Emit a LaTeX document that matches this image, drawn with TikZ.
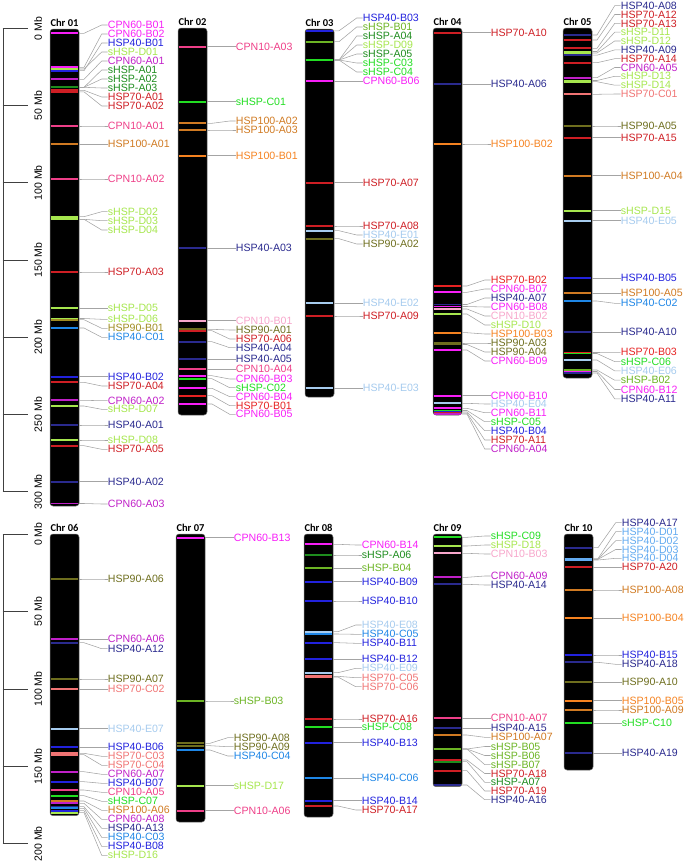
\documentclass[tikz,border=0pt]{standalone}
\usepackage{fontspec}
\setmainfont{Liberation Sans}
\newfontfamily\ttlfont{Carlito}
\definecolor{cpA}{HTML}{C020C8}
\definecolor{cpB}{HTML}{F71EF7}
\definecolor{cTA}{HTML}{EE3F88}
\definecolor{cTB}{HTML}{F7A6CB}
\definecolor{hfA}{HTML}{2A2A8E}
\definecolor{hfB}{HTML}{2222DD}
\definecolor{hfC}{HTML}{1E86E6}
\definecolor{hfD}{HTML}{62AAF0}
\definecolor{hfE}{HTML}{A6CBEE}
\definecolor{hsA}{HTML}{CE1E24}
\definecolor{hsB}{HTML}{E62222}
\definecolor{hsC}{HTML}{F07474}
\definecolor{hnA}{HTML}{6E6E1E}
\definecolor{hnB}{HTML}{A08C22}
\definecolor{hhA}{HTML}{D07A22}
\definecolor{hhB}{HTML}{F58220}
\definecolor{sA}{HTML}{1E8C1E}
\definecolor{sB}{HTML}{6CB424}
\definecolor{sC}{HTML}{22DD22}
\definecolor{sD}{HTML}{A6E64E}
\definecolor{connc}{HTML}{A4A4A4}
\definecolor{axc}{HTML}{404040}
\tikzset{
  barshape/.style={fill=black,draw=black!55,line width=0.5pt,rounded corners=3pt},
  bandline/.style={line width=1.8pt},
  lbl/.style={anchor=west,inner sep=0pt,font=\fontsize{10.6}{10.6}\selectfont},
  ttl/.style={inner sep=0pt,font=\ttlfont\bfseries\fontsize{10.5}{10.5}\selectfont},
  conn/.style={draw=connc,line width=0.55pt},
  axline/.style={draw=axc,line width=0.9pt},
  axl/.style={inner sep=0pt,rotate=90,font=\fontsize{10.5}{10.5}\selectfont}
}
\newcommand\chrom[4]{%
  \pgfmathsetmacro\xL{#2}\pgfmathsetmacro\xR{#2+29}%
  \pgfmathsetmacro\xT{#2+14.5}\pgfmathsetmacro\xLab{#2+29+28.7}%
  \draw[barshape] (\xL,#3) rectangle (\xR,#4);
  \node[ttl] (chr#1) at (\xT,#3-6) {Chr #1};
}
\newcommand\gene[4]{%
  \draw[bandline,draw=#2] (\xL+0.7,#3) -- (\xR-0.7,#3);
  \coordinate (b-#1) at (\xR,#3);
  \node[lbl,text=#2] (#1) at (\xLab,#4) {#1};
  \draw[conn] (b-#1) -- ++(5,0) -- ([xshift=-6pt]#1.west) -- (#1.west);
}
\begin{document}
\begin{tikzpicture}[x=1pt,y=-1pt]
\useasboundingbox (0,0) rectangle (685,863);
% ---------- axes ----------
\coordinate (axTtop) at (3,28.5);
\coordinate (axTbot) at (3,491.7);
\draw[axline] (axTtop) -- (axTbot);
\foreach \k/\t in {0/0 Mb,1/50 Mb,2/100 Mb,3/150 Mb,4/200 Mb,5/250 Mb,6/300 Mb}{
  \pgfmathsetmacro\yy{28.5+77.2*\k}
  \coordinate (tT\k) at (2.6,\yy);
  \coordinate (tTe\k) at (28,\yy);
  \draw[axline] (tT\k) -- (tTe\k);
  \node[axl] (aT\k) at (38,\yy) {\t};
}
\coordinate (axBtop) at (3,534.3);
\coordinate (axBbot) at (3,844);
\draw[axline] (axBtop) -- (axBbot);
\foreach \k/\t in {0/0 Mb,1/50 Mb,2/100 Mb,3/150 Mb,4/200 Mb}{
  \pgfmathsetmacro\yy{534.3+77.4*\k}
  \coordinate (tB\k) at (2.6,\yy);
  \coordinate (tBe\k) at (28,\yy);
  \draw[axline] (tB\k) -- (tBe\k);
  \node[axl] (aB\k) at (38,\yy) {\t};
}
% ---------- Chr 01 ----------
\chrom{01}{50}{29}{506}
\gene{CPN60-B01}{cpB}{33.3}{25}
\gene{CPN60-B02}{cpB}{67.3}{34}
\gene{sHSP-D01}{sD}{69}{52}
\gene{HSP40-B01}{hfB}{70.7}{43}
\gene{CPN60-A01}{cpA}{79.3}{61}
\gene{sHSP-A01}{sA}{87.3}{70}
\gene{sHSP-A02}{sA}{87.3}{79}
\gene{sHSP-A03}{sA}{87.3}{88}
\gene{HSP70-A01}{hsA}{90.3}{97}
\gene{HSP70-A02}{hsA}{91.8}{106}
\gene{CPN10-A01}{cTA}{126}{126}
\gene{HSP100-A01}{hhA}{144.3}{144.3}
\gene{CPN10-A02}{cTA}{179}{179}
\gene{sHSP-D02}{sD}{216.7}{211.7}
\gene{sHSP-D03}{sD}{219.3}{220.7}
\gene{sHSP-D04}{sD}{219.3}{230}
\gene{HSP70-A03}{hsA}{272}{272}
\gene{sHSP-D05}{sD}{308.3}{308.3}
\gene{sHSP-D06}{sD}{318.5}{319.3}
\gene{HSP90-B01}{hnB}{319.7}{328.3}
\gene{HSP40-C01}{hfC}{328}{337.3}
\gene{HSP40-B02}{hfB}{376.7}{376.7}
\gene{HSP70-A04}{hsA}{382.3}{386}
\gene{CPN60-A02}{cpA}{400.3}{400.7}
\gene{sHSP-D07}{sD}{406}{409.3}
\gene{HSP40-A01}{hfA}{425}{425}
\gene{sHSP-D08}{sD}{440}{440}
\gene{HSP70-A05}{hsA}{445.7}{449.3}
\gene{HSP40-A02}{hfA}{481.7}{481.7}
\gene{CPN60-A03}{cpA}{503.5}{504}
% ---------- Chr 02 ----------
\chrom{02}{178}{28}{415}
\gene{CPN10-A03}{cTA}{46.7}{46.7}
\gene{sHSP-C01}{sC}{101.7}{101.7}
\gene{HSP100-A02}{hhA}{123.3}{121}
\gene{HSP100-A03}{hhA}{130}{130}
\gene{HSP100-B01}{hhB}{155.7}{155.7}
\gene{HSP40-A03}{hfA}{248.3}{248.3}
\gene{CPN10-B01}{cTB}{320.7}{320.7}
\gene{HSP90-A01}{hnA}{329.3}{330}
\gene{HSP70-A06}{hsA}{330.7}{339}
\gene{HSP40-A04}{hfA}{341.7}{347.7}
\gene{HSP40-A05}{hfA}{359.3}{359.3}
\gene{CPN10-A04}{cTA}{369.3}{369.3}
\gene{CPN60-B03}{cpB}{375.7}{379}
\gene{sHSP-C02}{sC}{378.7}{387.7}
\gene{CPN60-B04}{cpB}{388.3}{396.7}
\gene{HSP70-B01}{hsB}{395.7}{405.7}
\gene{CPN60-B05}{cpB}{404}{414.3}
% ---------- Chr 03 ----------
\chrom{03}{305}{29}{397}
\gene{HSP40-B03}{hfB}{30.8}{18}
\gene{sHSP-B01}{sB}{41.7}{27}
\gene{sHSP-A04}{sA}{60}{36}
\gene{sHSP-D09}{sD}{60}{45}
\gene{sHSP-A05}{sA}{60}{54}
\gene{sHSP-C03}{sC}{60}{63}
\gene{sHSP-C04}{sC}{60}{72}
\gene{CPN60-B06}{cpB}{81.3}{81.3}
\gene{HSP70-A07}{hsA}{182.7}{182.7}
\gene{HSP70-A08}{hsA}{226}{226}
\gene{HSP40-E01}{hfE}{230.7}{235}
\gene{HSP90-A02}{hnA}{238.7}{244}
\gene{HSP40-E02}{hfE}{303.3}{303.3}
\gene{HSP70-A09}{hsA}{316}{316}
\gene{HSP40-E03}{hfE}{388.3}{388.3}
% ---------- Chr 04 ----------
\chrom{04}{433}{28}{415}
\gene{HSP70-A10}{hsA}{32.7}{32.7}
\gene{HSP40-A06}{hfA}{84.3}{84.3}
\gene{HSP100-B02}{hhB}{144}{144}
\gene{HSP70-B02}{hsB}{286}{280}
\gene{CPN60-B07}{cpB}{292.3}{289}
\gene{HSP40-A07}{hfA}{304.5}{298}
\gene{CPN60-B08}{cpB}{306.5}{307}
\gene{CPN10-B02}{cTB}{309}{316}
\gene{sHSP-D10}{sD}{314}{325}
\gene{HSP100-B03}{hhB}{332.7}{334}
\gene{HSP90-A03}{hnA}{343}{343}
\gene{HSP90-A04}{hnA}{344.5}{352}
\gene{CPN60-B09}{cpB}{350}{361}
\gene{CPN60-B10}{cpB}{395.7}{395.7}
\gene{HSP40-E04}{hfE}{403.3}{404}
\gene{CPN60-B11}{cpB}{408.3}{412.7}
\gene{sHSP-C05}{sC}{410.5}{421.7}
\gene{HSP40-B04}{hfB}{411.8}{430.7}
\gene{HSP70-A11}{hsA}{413}{440}
\gene{CPN60-A04}{cpA}{414}{449}
% ---------- Chr 05 ----------
\chrom{05}{563}{28}{378}
\gene{HSP40-A08}{hfA}{35}{5.7}
\gene{HSP70-A12}{hsA}{40}{14.5}
\gene{HSP70-A13}{hsA}{48.3}{23.4}
\gene{sHSP-D11}{sD}{51.5}{32.2}
\gene{sHSP-D12}{sD}{53}{41}
\gene{HSP40-A09}{hfA}{55.2}{49.9}
\gene{HSP70-A14}{hsA}{62.7}{58.7}
\gene{CPN60-A05}{cpA}{77.7}{67.5}
\gene{sHSP-D13}{sD}{80.5}{76.3}
\gene{sHSP-D14}{sD}{81.7}{85.2}
\gene{HSP70-C01}{hsC}{94.3}{94}
\gene{HSP90-A05}{hnA}{126}{126}
\gene{HSP70-A15}{hsA}{137.7}{137.7}
\gene{HSP100-A04}{hhA}{175.7}{175.7}
\gene{sHSP-D15}{sD}{210.7}{210.7}
\gene{HSP40-E05}{hfE}{220.7}{220.7}
\gene{HSP40-B05}{hfB}{278.3}{278.3}
\gene{HSP100-A05}{hhA}{293.3}{293.3}
\gene{HSP40-C02}{hfC}{301}{303.3}
\gene{HSP40-A10}{hfA}{332.3}{332.3}
\gene{HSP70-B03}{hsB}{352.5}{352.3}
\gene{sHSP-C06}{sC}{353.5}{361.6}
\gene{HSP40-E06}{hfE}{360}{370.9}
\gene{sHSP-B02}{sB}{370}{380.2}
\gene{CPN60-B12}{cpB}{371.5}{389.5}
\gene{HSP40-A11}{hfA}{373}{398.8}
% ---------- Chr 06 ----------
\chrom{06}{50}{534}{815.7}
\gene{HSP90-A06}{hnA}{579}{579}
\gene{CPN60-A06}{cpA}{639.3}{639.3}
\gene{HSP40-A12}{hfA}{642.7}{648.7}
\gene{HSP90-A07}{hnA}{679}{679}
\gene{HSP70-C02}{hsC}{689.3}{689.3}
\gene{HSP40-E07}{hfE}{728.7}{728.7}
\gene{HSP40-B06}{hfB}{747.3}{747.3}
\gene{HSP70-C03}{hsC}{753.3}{756.3}
\gene{HSP70-C04}{hsC}{754.7}{765.3}
\gene{CPN60-A07}{cpA}{771.7}{774.3}
\gene{HSP40-B07}{hfB}{781.7}{783.3}
\gene{CPN10-A05}{cTA}{790}{792.3}
\gene{sHSP-C07}{sC}{795.7}{801.3}
\gene{HSP100-A06}{hhA}{801}{810.3}
\gene{CPN60-A08}{cpA}{803.3}{819.3}
\gene{HSP40-A13}{hfA}{806.7}{828.3}
\gene{HSP40-C03}{hfC}{808.3}{837.3}
\gene{HSP40-B08}{hfB}{810.7}{846.3}
\gene{sHSP-D16}{sD}{812.7}{855.3}
% ---------- Chr 07 ----------
\chrom{07}{176}{534}{822}
\gene{CPN60-B13}{cpB}{537.7}{537.7}
\gene{sHSP-B03}{sB}{701}{701}
\gene{HSP90-A08}{hnA}{743.3}{737.7}
\gene{HSP90-A09}{hnA}{745.7}{746.7}
\gene{HSP40-C04}{hfC}{750}{756}
\gene{sHSP-D17}{sD}{785.7}{785.7}
\gene{CPN10-A06}{cTA}{810.7}{810.7}
% ---------- Chr 08 ----------
\chrom{08}{304}{534}{817}
\gene{CPN60-B14}{cpB}{544.3}{545}
\gene{sHSP-A06}{sA}{555}{555}
\gene{sHSP-B04}{sB}{568.3}{568.3}
\gene{HSP40-B09}{hfB}{581.7}{581.7}
\gene{HSP40-B10}{hfB}{601}{601}
\gene{HSP40-E08}{hfE}{631.7}{625}
\gene{HSP40-C05}{hfC}{634}{634.3}
\gene{HSP40-B11}{hfB}{642.7}{643.3}
\gene{HSP40-B12}{hfB}{659.3}{659.3}
\gene{HSP40-E09}{hfE}{672.7}{668.3}
\gene{HSP70-C05}{hsC}{676.3}{677.7}
\gene{HSP70-C06}{hsC}{677}{686.7}
\gene{HSP70-A16}{hsA}{719}{719}
\gene{sHSP-C08}{sC}{727.3}{727.3}
\gene{HSP40-B13}{hfB}{742.7}{742.7}
\gene{HSP40-C06}{hfC}{778.3}{778.3}
\gene{HSP40-B14}{hfB}{800.7}{800.7}
\gene{HSP70-A17}{hsA}{806}{810}
% ---------- Chr 09 ----------
\chrom{09}{433}{534}{786.7}
\gene{sHSP-C09}{sC}{537.3}{536}
\gene{sHSP-D18}{sD}{546}{545}
\gene{CPN10-B03}{cTB}{553.3}{554}
\gene{CPN60-A09}{cpA}{577.3}{576}
\gene{HSP40-A14}{hfA}{584.3}{585}
\gene{CPN10-A07}{cTA}{718.3}{718.3}
\gene{HSP40-A15}{hfA}{728.3}{728.3}
\gene{HSP100-A07}{hhA}{735}{737.3}
\gene{sHSP-B05}{sB}{749}{746.5}
\gene{sHSP-B06}{sB}{749}{755.5}
\gene{sHSP-B07}{sB}{749}{764.6}
\gene{HSP70-A18}{hsA}{760}{773.5}
\gene{sHSP-A07}{sA}{761.7}{782.3}
\gene{HSP70-A19}{hsA}{770.7}{791}
\gene{HSP40-A16}{hfA}{785}{799.7}
% ---------- Chr 10 ----------
\chrom{10}{564}{534}{770}
\gene{HSP40-A17}{hfA}{547.7}{522.7}
\gene{HSP40-D01}{hfD}{558.6}{531.7}
\gene{HSP40-D02}{hfD}{559.3}{540.7}
\gene{HSP40-D03}{hfD}{559.3}{549.5}
\gene{HSP40-D04}{hfD}{560}{558.3}
\gene{HSP70-A20}{hsA}{567.3}{567.3}
\gene{HSP100-A08}{hhA}{590}{590}
\gene{HSP100-B04}{hhB}{618.3}{618.3}
\gene{HSP40-B15}{hfB}{655}{655}
\gene{HSP40-A18}{hfA}{662.3}{664.3}
\gene{HSP90-A10}{hnA}{682.3}{682.3}
\gene{HSP100-B05}{hhB}{700.7}{700.7}
\gene{HSP100-A09}{hhA}{710}{710}
\gene{sHSP-C10}{sC}{723.3}{723.3}
\gene{HSP40-A19}{hfA}{753.3}{753.3}
\end{tikzpicture}
\end{document}
